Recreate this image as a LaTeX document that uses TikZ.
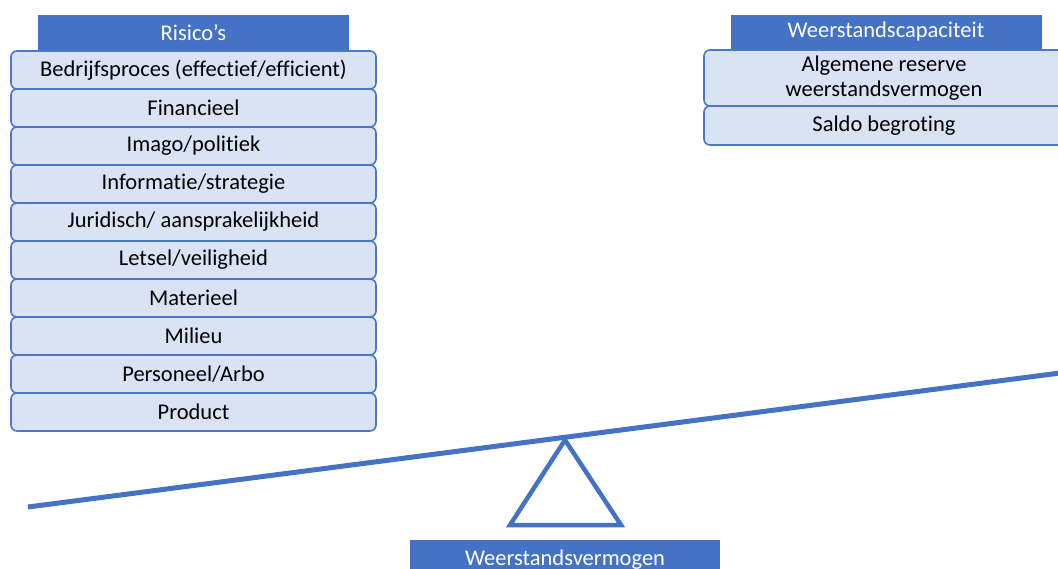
\documentclass[tikz,border=0pt]{standalone}
\usepackage{fontspec}
\setmainfont[Ligatures=NoCommon]{Carlito}
\definecolor{hblue}{HTML}{4472C4}
\definecolor{lblue}{HTML}{DAE3F3}
\definecolor{bblue}{HTML}{4A78C8}
\begin{document}
\begin{tikzpicture}[x=1pt,y=-1pt,
  hdr/.style={fill=hblue, draw=none, text=white, minimum width=311pt, inner sep=0pt, font=\fontsize{22.5}{26}\selectfont},
  item/.style={fill=lblue, draw=bblue, line width=1.6pt, rounded corners=6pt, minimum width=365pt, minimum height=38pt, inner sep=0pt, align=center, font=\fontsize{22.5}{25.5}\selectfont},
  beam/.style={draw=hblue, line width=5pt},
  fulcrum/.style={draw=hblue, line width=4.5pt, line join=miter}]
\useasboundingbox (0,0) rectangle (1058,569);
\clip (0,0) rectangle (1058,569);
% left column
\node[hdr, minimum height=36pt] (rh) at (193.5,33) {Risico’s};
\foreach \t [count=\i] in {Bedrijfsproces (effectief/efficient),Financieel,Imago/politiek,Informatie/strategie,Juridisch/ aansprakelijkheid,Letsel/veiligheid,Materieel,Milieu,Personeel/Arbo,Product}
  \node[item] (r\i) at (193.5,{51+38*(\i-0.5)}) {\t};
% right column
\node[hdr, minimum height=34pt] (wh) at (886,32) {Weerstandscapaciteit};
\node[item, minimum width=360pt, minimum height=56pt] (w1) at (884,78) {Algemene reserve\\weerstandsvermogen};
\node[item, minimum width=360pt, minimum height=39pt] (w2) at (884,125.5) {Saldo begroting};
% balance
\coordinate (bl) at (28,507);
\coordinate (br) at (1060,373);
\draw[beam] (bl) -- (br);
\coordinate (apex) at (565,440);
\coordinate (tl) at (510,525);
\coordinate (tr) at (621,525);
\draw[fulcrum] (apex) -- (tr) -- (tl) -- cycle;
\node[hdr, minimum width=310pt, minimum height=40pt] (wv) at (565,560) {Weerstandsvermogen};
\end{tikzpicture}
\end{document}
